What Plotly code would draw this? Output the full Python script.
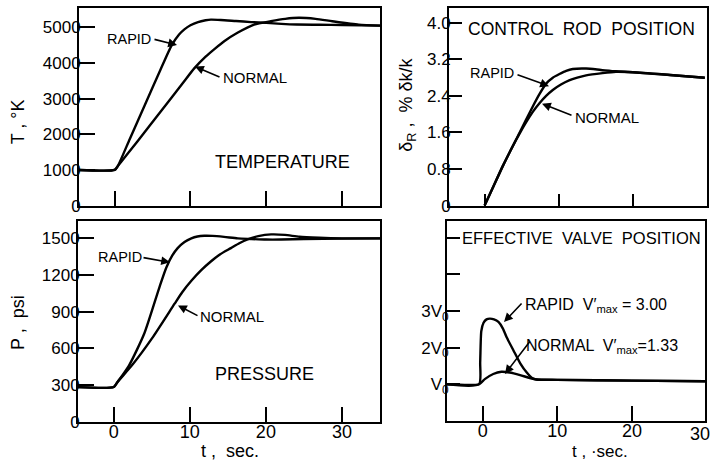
import plotly.graph_objects as go

W, H = 713, 472

# ---------------- data ----------------
# Temperature (K)
t_temp_rapid = [-5, 0, 0.4, 2, 4, 6, 7.5, 8.5, 9.2, 10, 11, 12, 12.7, 14, 16, 18, 20, 22, 24, 27, 30, 35]
T_rapid = [1000, 1000, 1100, 1870, 2830, 3790, 4490, 4800, 4945, 5060, 5150, 5200, 5220, 5210, 5180, 5150, 5130, 5100, 5080, 5075, 5070, 5050]
t_temp_normal = [-5, 0, 0.4, 3, 6, 9, 10.5, 12, 13.2, 14.5, 16.2, 18.4, 20.6, 22.5, 24.3, 26.5, 28.7, 32.2, 35]
T_normal = [1000, 1000, 1100, 1800, 2620, 3440, 3850, 4180, 4400, 4620, 4850, 5080, 5175, 5240, 5270, 5240, 5175, 5080, 5050]

# Control rod position (% dk/k)
t_rod_rapid = [0, 1, 2.5, 4.7, 6.5, 7.4, 8.3, 9.2, 10.1, 11, 11.9, 13.7, 15.7, 17.7, 20, 25, 29.7]
rod_rapid = [0, 0.35, 0.88, 1.59, 2.17, 2.44, 2.67, 2.8, 2.88, 2.95, 2.99, 3.0, 2.97, 2.94, 2.92, 2.86, 2.8]
t_rod_normal = [0, 1, 2.5, 4.7, 6.5, 7.4, 8.3, 9.2, 10.3, 11.4, 12.5, 13.7, 15.9, 17.7, 20, 25, 29.7]
rod_normal = [0, 0.35, 0.88, 1.57, 2.05, 2.24, 2.4, 2.53, 2.65, 2.74, 2.8, 2.85, 2.9, 2.93, 2.92, 2.86, 2.8]

# Pressure (psi)
t_pres_rapid = [-5, 0, 0.5, 2, 4, 6, 6.9, 7.7, 8.4, 9.3, 10.2, 11, 11.9, 13, 14.5, 16.3, 18, 20, 22, 25, 30, 35]
P_rapid = [285, 285, 326, 460, 720, 1100, 1260, 1360, 1420, 1470, 1500, 1515, 1521, 1520, 1512, 1500, 1495, 1490, 1490, 1495, 1498, 1500]
t_pres_normal = [-5, 0, 0.5, 2.5, 5, 8, 9, 10.2, 11.5, 12.8, 14, 15.4, 16.5, 17.6, 19, 20.7, 22.5, 24.4, 27, 30, 35]
P_normal = [285, 285, 326, 470, 680, 966, 1060, 1153, 1240, 1313, 1370, 1420, 1460, 1492, 1518, 1532, 1528, 1513, 1505, 1500, 1500]

# Effective valve position (multiples of V0)
t_valve_rapid = [-5, -0.5, -0.35, -0.2, 0.1, 0.5, 0.95, 1.5, 2.1, 2.7, 3.2, 4.1, 5.0, 5.9, 6.6, 7.2, 10, 20, 30]
V_rapid = [1.0, 1.0, 1.6, 2.45, 2.68, 2.77, 2.79, 2.77, 2.7, 2.52, 2.28, 1.93, 1.58, 1.32, 1.17, 1.13, 1.12, 1.1, 1.08]
t_valve_normal = [-5, -0.5, 0.27, 1.4, 2.5, 3.6, 5.0, 6.3, 7.2, 10, 20, 30]
V_normal = [1.0, 1.0, 1.14, 1.28, 1.34, 1.32, 1.25, 1.17, 1.13, 1.12, 1.1, 1.08]

temp_ticks = [0, 1000, 2000, 3000, 4000, 5000]
temp_ticktext = ["0", "1000", "2000", "3000", "4000", "5000"]
rod_ticks = [0, 0.8, 1.6, 2.4, 3.2, 4.0]
rod_ticktext = ["0", "0.8", "1.6", "2.4", "3.2", "4.0"]
pres_ticks = [0, 300, 600, 900, 1200, 1500]
pres_ticktext = ["0", "300", "600", "900", "1200", "1500"]
valve_ticks = [1, 2, 3, 4, 5]
valve_ticktext = ["V<sub>0</sub>", "2V<sub>0</sub>", "3V<sub>0</sub>", "", ""]
t_ticks = [0, 10, 20, 30]
t_ticktext = ["0", "10", "20", "30"]

# ---------------- figure ----------------
FONT = "Liberation Sans, Arial, sans-serif"
LW = 2.4

fig = go.Figure()
def add(x, y, ax):
    fig.add_trace(go.Scatter(x=x, y=y, mode="lines", xaxis="x" + ax, yaxis="y" + ax,
                             line=dict(color="black", width=LW, shape="spline", smoothing=0.6),
                             showlegend=False, hoverinfo="skip"))

add(t_temp_rapid, T_rapid, "")
add(t_temp_normal, T_normal, "")
add(t_rod_rapid, rod_rapid, "2")
add(t_rod_normal, rod_normal, "2")
add(t_pres_rapid, P_rapid, "3")
add(t_pres_normal, P_normal, "3")
add(t_valve_rapid, V_rapid, "4")
add(t_valve_normal, V_normal, "4")

def px(x): return x / W
def py(y): return 1 - y / H

def xax(x0, x1, rng, tickvals, labels, ticklen=15):
    return dict(domain=[px(x0), px(x1)], range=rng, showgrid=False, zeroline=False,
                showline=True, mirror=True, linecolor="black", linewidth=2,
                ticks="inside", ticklen=ticklen, tickwidth=2, tickcolor="black",
                tickvals=tickvals, ticktext=t_ticktext[:len(tickvals)],
                showticklabels=labels, ticklabelstandoff=-7,
                tickfont=dict(family=FONT, size=18, color="black"),
                fixedrange=True)

def yax(y0, y1, rng, tickvals, ticktext, anchor, ticklen=16):
    return dict(domain=[py(y1), py(y0)], range=rng, showgrid=False, zeroline=False,
                showline=True, mirror=True, linecolor="black", linewidth=2,
                ticks="inside", ticklen=ticklen, tickwidth=2, tickcolor="black",
                tickvals=tickvals, ticktext=ticktext, anchor=anchor,
                ticklabelstandoff=-7,
                tickfont=dict(family=FONT, size=17, color="black"), fixedrange=True)

fig.update_layout(
    width=W, height=H, margin=dict(l=0, r=0, t=0, b=0),
    paper_bgcolor="white", plot_bgcolor="white",
    font=dict(family=FONT, color="black"),
    xaxis=xax(79, 380, [-4.7, 35], t_ticks, False),
    yaxis=yax(8, 210, [0, 5550], temp_ticks, temp_ticktext, "x"),
    xaxis2=dict(xax(449, 707, [-4.8, 30], t_ticks[:3], False, 12), anchor="y2"),
    yaxis2=yax(8, 210, [0, 4.33], rod_ticks, rod_ticktext, "x2", 13),
    xaxis3=dict(xax(78, 380, [-4.7, 35], t_ticks, True), anchor="y3"),
    yaxis3=yax(226, 431, [0, 1640], pres_ticks, pres_ticktext, "x3"),
    xaxis4=dict(xax(447, 705, [-4.8, 29.8], t_ticks[:3], True), anchor="y4"),
    yaxis4=yax(226, 430, [0, 5.45], valve_ticks, valve_ticktext, "x4", 13),
)

# text labels (pixel positions: center x, center y)
texts = [
    ("RAPID", 129, 40, 14.5, 0),
    ("NORMAL", 255, 79, 15, 0),
    ("TEMPERATURE", 282, 166, 18, 0),
    ("RAPID", 492, 75, 14.5, 0),
    ("NORMAL", 607, 120, 15, 0),
    ("CONTROL  ROD  POSITION", 581, 30, 17.5, 0),
    ("RAPID", 120, 263, 14.5, 0),
    ("NORMAL", 232, 323, 15, 0),
    ("PRESSURE", 264, 382, 18, 0),
    ("EFFECTIVE  VALVE  POSITION", 581, 243, 16.5, 0),
    ("RAPID  V\u2032<sub>max</sub> = 3.00", 596, 312, 16, 0),
    ("NORMAL  V\u2032<sub>max</sub>=1.33", 602, 354, 16, 0),
    ("T , °K", 18, 125, 18, -90),
    ("δ<sub>R</sub> ,  % δk/k", 408, 107, 18, -90),
    ("P ,  psi", 18, 330, 18, -90),
    (t_ticktext[3], 700, 443, 18, 0),
]
for s, x, y, size, ang in texts:
    fig.add_annotation(text=s, x=px(x), y=py(y), xref="paper", yref="paper",
                       showarrow=False, textangle=ang, xanchor="center", yanchor="middle",
                       font=dict(family=FONT, size=size, color="black"))

# axis titles anchored to the bottom edge so nothing overflows the page
for s, x, size in [("t ,  sec.", 230, 18), ("t , ·sec.", 600, 17)]:
    fig.add_annotation(text=s, x=px(x), y=0, xref="paper", yref="paper",
                       showarrow=False, xanchor="center", yanchor="bottom", borderpad=0,
                       font=dict(family=FONT, size=size, color="black"))

# pointer arrows: (tail_x, tail_y, tip_x, tip_y) in pixels
arrows = [
    (153, 40, 177, 46),
    (221, 79, 195, 68),
    (516, 76, 549, 88),
    (573, 118, 542, 106),
    (142, 263, 170, 268),
    (199, 323, 178, 312),
    (523, 309, 504, 329),
    (531, 348, 505, 382),
]
for x0, y0, x1, y1 in arrows:
    fig.add_annotation(text="", x=px(x1), y=py(y1), xref="paper", yref="paper",
                       ax=x0 - x1, ay=y0 - y1, axref="pixel", ayref="pixel",
                       showarrow=True, arrowhead=2, arrowsize=1.1, arrowwidth=1.6,
                       arrowcolor="black", standoff=0)

fig.write_html("out.html")
